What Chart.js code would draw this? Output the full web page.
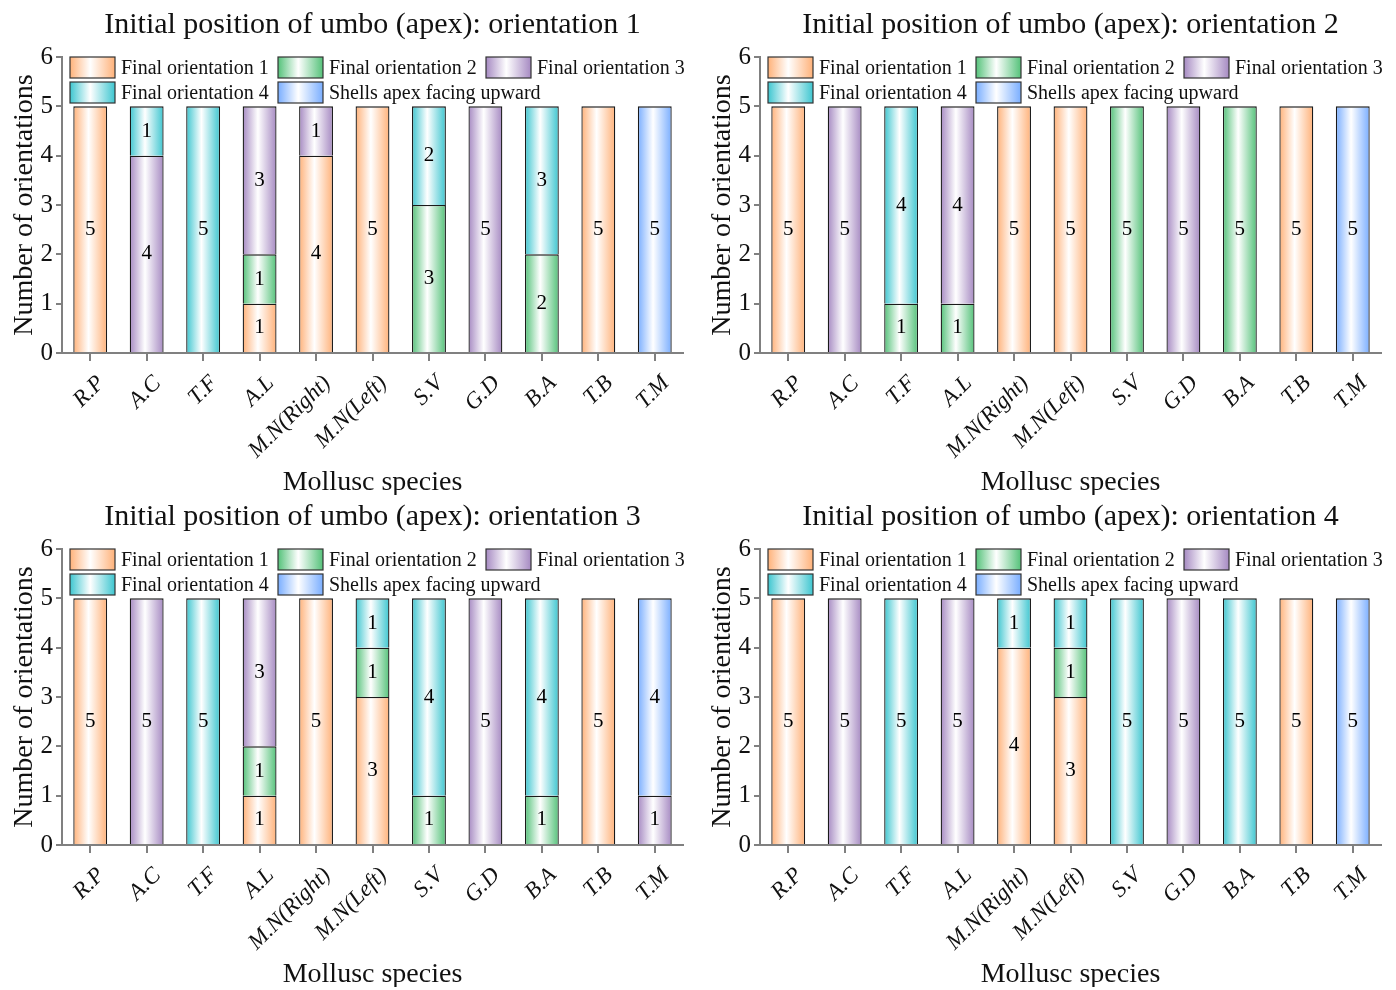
<!DOCTYPE html>
<html>
<head>
<meta charset="utf-8">
<script src="https://cdn.jsdelivr.net/npm/chart.js@4/dist/chart.umd.min.js"></script>
<style>
  body { margin: 0; background: #fff; }
  #wrap { position: relative; width: 1396px; height: 990px; }
  canvas { position: absolute; }
</style>
</head>
<body>
<div id="wrap">
  <canvas id="c1" width="698" height="495" style="left:0;top:0"></canvas>
  <canvas id="c2" width="698" height="495" style="left:698px;top:0"></canvas>
  <canvas id="c3" width="698" height="495" style="left:0;top:492px"></canvas>
  <canvas id="c4" width="698" height="495" style="left:698px;top:492px"></canvas>
</div>
<script>
// categories and series
const species = ['R.P', 'A.C', 'T.F', 'A.L', 'M.N(Right)', 'M.N(Left)', 'S.V', 'G.D', 'B.A', 'T.B', 'T.M'];
const seriesNames = ['Final orientation 1', 'Final orientation 2', 'Final orientation 3', 'Final orientation 4', 'Shells apex facing upward'];
const seriesColors = ['#ffb27a', '#55c27a', '#a68ac2', '#3ec6d0', '#7aaeff'];
const yTickValues = [0, 1, 2, 3, 4, 5, 6];
const panelTitles = [
    'Initial position of umbo (apex): orientation 1',
    'Initial position of umbo (apex): orientation 2',
    'Initial position of umbo (apex): orientation 3',
    'Initial position of umbo (apex): orientation 4'
];

// orientation 1
const o1Final1 = [5, 0, 0, 1, 4, 5, 0, 0, 0, 5, 0];
const o1Final2 = [0, 0, 0, 1, 0, 0, 3, 0, 2, 0, 0];
const o1Final3 = [0, 4, 0, 3, 1, 0, 0, 5, 0, 0, 0];
const o1Final4 = [0, 1, 5, 0, 0, 0, 2, 0, 3, 0, 0];
const o1Upward = [0, 0, 0, 0, 0, 0, 0, 0, 0, 0, 5];

// orientation 2
const o2Final1 = [5, 0, 0, 0, 5, 5, 0, 0, 0, 5, 0];
const o2Final2 = [0, 0, 1, 1, 0, 0, 5, 0, 5, 0, 0];
const o2Final3 = [0, 5, 0, 4, 0, 0, 0, 5, 0, 0, 0];
const o2Final4 = [0, 0, 4, 0, 0, 0, 0, 0, 0, 0, 0];
const o2Upward = [0, 0, 0, 0, 0, 0, 0, 0, 0, 0, 5];

// orientation 3
const o3Final1 = [5, 0, 0, 1, 5, 3, 0, 0, 0, 5, 0];
const o3Final2 = [0, 0, 0, 1, 0, 1, 1, 0, 1, 0, 0];
const o3Final3 = [0, 5, 0, 3, 0, 0, 0, 5, 0, 0, 1];
const o3Final4 = [0, 0, 5, 0, 0, 1, 4, 0, 4, 0, 0];
const o3Upward = [0, 0, 0, 0, 0, 0, 0, 0, 0, 0, 4];

// orientation 4
const o4Final1 = [5, 0, 0, 0, 4, 3, 0, 0, 0, 5, 0];
const o4Final2 = [0, 0, 0, 0, 0, 1, 0, 0, 0, 0, 0];
const o4Final3 = [0, 5, 0, 5, 0, 0, 0, 5, 0, 0, 0];
const o4Final4 = [0, 0, 5, 0, 1, 1, 5, 0, 5, 0, 0];
const o4Upward = [0, 0, 0, 0, 0, 0, 0, 0, 0, 0, 5];

const panels = [
    [o1Final1, o1Final2, o1Final3, o1Final4, o1Upward],
    [o2Final1, o2Final2, o2Final3, o2Final4, o2Upward],
    [o3Final1, o3Final2, o3Final3, o3Final4, o3Upward],
    [o4Final1, o4Final2, o4Final3, o4Final4, o4Upward]
];

const SERIF = "'Liberation Serif', 'Times New Roman', serif";
const BAR_PCT = 0.6;

function hGradient(ctx, x0, x1, color) {
    const g = ctx.createLinearGradient(x0, 0, x1, 0);
    g.addColorStop(0, color);
    g.addColorStop(0.45, '#ffffff');
    g.addColorStop(1, color);
    return g;
}

function barFill(color) {
    return (c) => {
        const chart = c.chart;
        if (c.type !== 'data' || !chart.chartArea || !chart.scales.x) return color;
        const x = chart.scales.x.getPixelForValue(c.dataIndex);
        const w = chart.chartArea.width / species.length * BAR_PCT;
        return hGradient(chart.ctx, x - w / 2, x + w / 2, color);
    };
}

// numbers inside each stacked segment
const valueLabels = {
    id: 'valueLabels',
    afterDatasetsDraw(chart) {
        const ctx = chart.ctx;
        ctx.save();
        ctx.font = '21px ' + SERIF;
        ctx.fillStyle = '#000';
        ctx.textAlign = 'center';
        ctx.textBaseline = 'middle';
        chart.data.datasets.forEach((ds, i) => {
            chart.getDatasetMeta(i).data.forEach((bar, j) => {
                const v = ds.data[j];
                if (!v) return;
                ctx.fillText(String(v), bar.x, (bar.y + bar.base) / 2);
            });
        });
        ctx.restore();
    }
};

// legend drawn inside the plot, two rows
const innerLegend = {
    id: 'innerLegend',
    afterDraw(chart) {
        const ctx = chart.ctx;
        const a = chart.chartArea;
        const cols = [8, 216, 424];
        const boxW = 45, boxH = 21;
        ctx.save();
        ctx.font = '20px ' + SERIF;
        ctx.textBaseline = 'middle';
        ctx.textAlign = 'left';
        chart.data.datasets.forEach((ds, i) => {
            const col = i % 3, row = Math.floor(i / 3);
            const x = a.left + cols[col];
            const y = a.top + row * 25;
            ctx.fillStyle = hGradient(ctx, x, x + boxW, seriesColors[i]);
            ctx.fillRect(x, y, boxW, boxH);
            ctx.strokeStyle = '#333';
            ctx.lineWidth = 1.2;
            ctx.strokeRect(x, y, boxW, boxH);
            ctx.fillStyle = '#111';
            ctx.fillText(ds.label, x + boxW + 6, y + boxH / 2 + 1);
        });
        ctx.restore();
    }
};

function makeChart(id, title, series) {
    const datasets = series.map((vals, i) => ({
        label: seriesNames[i],
        data: vals.map(v => v === 0 ? null : v),
        backgroundColor: barFill(seriesColors[i]),
        borderColor: '#1a1a1a',
        borderWidth: 1.3,
        borderSkipped: 'start',
        barPercentage: BAR_PCT,
        categoryPercentage: 1
    }));

    return new Chart(document.getElementById(id), {
        type: 'bar',
        data: { labels: species, datasets: datasets },
        plugins: [valueLabels, innerLegend],
        options: {
            responsive: false,
            animation: false,
            layout: { padding: { left: 0, right: 15, top: 0, bottom: 0 } },
            plugins: {
                legend: { display: false },
                tooltip: { enabled: false },
                title: {
                    display: true,
                    fullSize: false,
                    text: title,
                    color: '#111',
                    font: { family: SERIF, size: 30, weight: 'normal', lineHeight: 1.2 },
                    padding: { top: 7, bottom: 14 }
                }
            },
            scales: {
                x: {
                    stacked: true,
                    afterFit: (s) => { s.height = 142; },
                    grid: { display: true, drawOnChartArea: false, offset: false, drawTicks: true, tickLength: 8, color: '#808080', lineWidth: 2 },
                    border: { color: '#808080', width: 2 },
                    ticks: {
                        autoSkip: false,
                        minRotation: 45,
                        maxRotation: 45,
                        color: '#111',
                        padding: 9,
                        labelOffset: 11,
                        font: { family: SERIF, size: 23, style: 'italic' }
                    },
                    title: {
                        display: true,
                        text: 'Mollusc species',
                        color: '#111',
                        font: { family: SERIF, size: 28, lineHeight: 0.86 },
                        padding: { top: 0, bottom: 0 }
                    }
                },
                y: {
                    stacked: true,
                    min: yTickValues[0],
                    max: yTickValues[yTickValues.length - 1],
                    afterFit: (s) => { s.width = 62; },
                    afterBuildTicks: (s) => { s.ticks = yTickValues.map(v => ({ value: v })); },
                    grid: { display: true, drawOnChartArea: false, drawTicks: true, tickLength: 6, color: '#808080', lineWidth: 2 },
                    border: { color: '#808080', width: 2 },
                    ticks: {
                        color: '#111',
                        padding: 3,
                        font: { family: SERIF, size: 25 }
                    },
                    title: {
                        display: true,
                        text: 'Number of orientations',
                        color: '#111',
                        font: { family: SERIF, size: 28, lineHeight: 1 },
                        padding: { top: 11, bottom: 0 }
                    }
                }
            }
        }
    });
}

panels.forEach((series, i) => makeChart('c' + (i + 1), panelTitles[i], series));
</script>
</body>
</html>
